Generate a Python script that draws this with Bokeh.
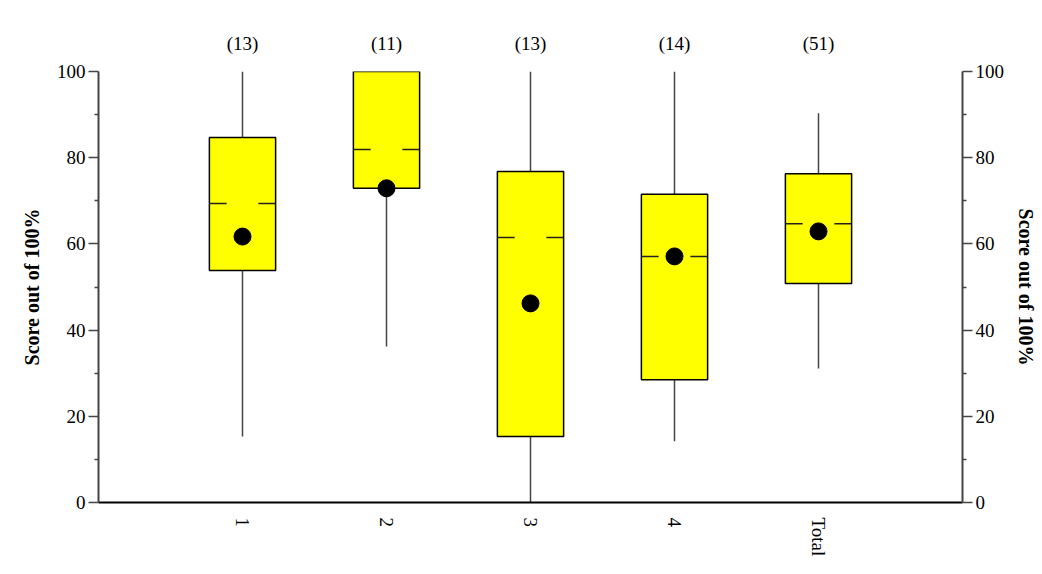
import numpy as np
from bokeh.plotting import figure
from bokeh.models import LinearAxis, FixedTicker, Range1d
from bokeh.embed import file_html
from bokeh.resources import INLINE

groups = ["1", "2", "3", "4", "Total"]
counts = [13, 11, 13, 14, 51]
q1 = [53.8, 72.9, 15.3, 28.5, 50.8]
median = [69.4, 81.9, 61.5, 57.1, 64.7]
q3 = [84.7, 100.0, 76.8, 71.5, 76.3]
low = [15.3, 36.2, 0.0, 14.2, 31.1]
high = [100.0, 100.0, 100.0, 100.0, 90.3]
mean = [61.7, 72.9, 46.2, 57.1, 62.9]

pos = np.arange(1, len(groups) + 1)
box_w = 0.46
seg_w = 0.12
FONT = "Liberation Serif"
FS = "19px"
FS_LABEL = "20px"

p = figure(width=1040, height=572, output_backend="svg", toolbar_location=None,
           x_range=Range1d(0, len(groups) + 1), y_range=Range1d(0, 100),
           min_border_left=98, min_border_right=78, min_border_top=71, min_border_bottom=70,
           x_axis_location=None, y_axis_location=None)
p.outline_line_color = None
p.xgrid.visible = False
p.ygrid.visible = False

# whiskers
p.segment(x0=pos, y0=q3, x1=pos, y1=high, line_color="#444444", line_width=1.5)
p.segment(x0=pos, y0=q1, x1=pos, y1=low, line_color="#444444", line_width=1.5)
# boxes
p.vbar(x=pos, bottom=q1, top=q3, width=box_w, fill_color="#ffff00",
       line_color="black", line_width=1.5)
# medians (broken lines)
p.segment(x0=pos - box_w / 2, x1=pos - box_w / 2 + seg_w, y0=median, y1=median,
          line_color="#222222", line_width=1.5)
p.segment(x0=pos + box_w / 2 - seg_w, x1=pos + box_w / 2, y0=median, y1=median,
          line_color="#222222", line_width=1.5)
# means
p.scatter(x=pos, y=mean, size=17, fill_color="black", line_color="black")

def style_y(ax, label_standoff):
    ax.ticker = FixedTicker(ticks=[0, 20, 40, 60, 80, 100],
                            minor_ticks=[10, 30, 50, 70, 90])
    ax.axis_line_color = "#444444"
    ax.axis_line_width = 2
    ax.major_tick_line_color = "#444444"
    ax.major_tick_line_width = 1.5
    ax.minor_tick_line_color = "#444444"
    ax.minor_tick_line_width = 1.5
    ax.major_tick_out = 10
    ax.major_tick_in = 0
    ax.minor_tick_out = 4
    ax.minor_tick_in = 0
    ax.major_label_standoff = 3
    ax.major_label_text_font = FONT
    ax.major_label_text_font_size = FS
    ax.major_label_text_color = "black"
    ax.axis_label = "Score out of 100%"
    ax.axis_label_text_font = FONT
    ax.axis_label_text_font_style = "bold"
    ax.axis_label_text_font_size = FS_LABEL
    ax.axis_label_text_color = "black"
    ax.axis_label_standoff = label_standoff

yl = LinearAxis()
style_y(yl, 11)
p.add_layout(yl, "left")
yr = LinearAxis()
style_y(yr, 8)
p.add_layout(yr, "right")

xb = LinearAxis()
xb.ticker = FixedTicker(ticks=list(pos), minor_ticks=[])
xb.major_label_overrides = {int(k): g for k, g in zip(pos, groups)}
xb.major_label_orientation = -np.pi / 2
xb.axis_line_color = "black"
xb.axis_line_width = 2
xb.major_tick_line_color = None
xb.minor_tick_line_color = None
xb.major_tick_out = 0
xb.major_label_standoff = 15
xb.major_label_text_font = FONT
xb.major_label_text_font_size = FS
xb.major_label_text_color = "black"
p.add_layout(xb, "below")

xt = LinearAxis()
xt.ticker = FixedTicker(ticks=list(pos), minor_ticks=[])
xt.major_label_overrides = {int(k): f"({c})" for k, c in zip(pos, counts)}
xt.axis_line_color = None
xt.major_tick_line_color = None
xt.minor_tick_line_color = None
xt.major_tick_out = 0
xt.major_label_standoff = 18
xt.major_label_text_font = FONT
xt.major_label_text_font_size = FS
xt.major_label_text_color = "black"
p.add_layout(xt, "above")

open("out.html", "w").write(file_html(p, INLINE))
